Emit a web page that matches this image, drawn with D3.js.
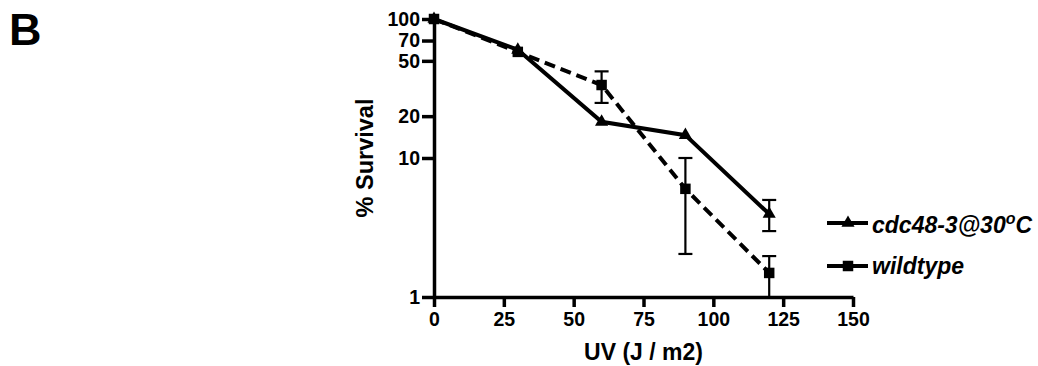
<!DOCTYPE html>
<html>
<head>
<meta charset="utf-8">
<script src="https://cdn.jsdelivr.net/npm/d3@7"></script>
<style>
  body { margin: 0; background: #fff; }
  text { font-family: "Liberation Sans", Arial, sans-serif; font-weight: bold; }
</style>
</head>
<body>
<svg id="chart"></svg>
<script>
const width = 1038, height = 366;
const margin = {top: 19, bottom: 69, left: 434, right: 185};

// data
const doses = [0, 30, 60, 90, 120];
const cdc48 = [100, 60, 18.2, 14.6, 3.95];
const cdc48Lo = [null, null, null, null, 2.98];
const cdc48Hi = [null, null, null, null, 4.99];
const wildtype = [100, 58, 33.5, 6.0, 1.49];
const wildLo = [null, null, 24.9, 2.04, 1.0];
const wildHi = [null, null, 42, 10, 1.97];
const xTicks = [0, 25, 50, 75, 100, 125, 150];
const yTicks = [1, 10, 20, 50, 70, 100];

const svg = d3.select("#chart")
    .attr("width", width)
    .attr("height", height)
    .style("background", "#ffffff");

const xScale = d3.scaleLinear()
    .domain([0, 150])
    .range([margin.left, width - margin.right]);

const yScale = d3.scaleLog()
    .domain([1, 100])
    .range([height - margin.bottom, margin.top]);

// panel letter
svg.append("text")
    .attr("x", 9)
    .attr("y", 45)
    .style("font-size", "45px")
    .text("B");

// axes
const xAxis = svg.append("g")
    .attr("transform", `translate(0,${height - margin.bottom})`)
    .call(d3.axisBottom(xScale).tickValues(xTicks).tickSize(10).tickPadding(5).tickSizeOuter(0));

const yAxis = svg.append("g")
    .attr("transform", `translate(${margin.left},0)`)
    .call(d3.axisLeft(yScale).tickValues(yTicks).tickFormat(d3.format("d")).tickSize(12).tickPadding(2).tickSizeOuter(0));

[xAxis, yAxis].forEach(ax => {
  ax.select(".domain").attr("stroke", "#000").attr("stroke-width", 3.5);
  ax.selectAll(".tick line").attr("stroke", "#000").attr("stroke-width", 3.5);
  ax.selectAll(".tick text")
    .attr("fill", "#000")
    .style("font-size", "19.5px")
    .style("font-family", "'Liberation Sans', Arial, sans-serif")
    .style("font-weight", "bold");
});

// axis titles
svg.append("text")
    .attr("x", xScale(75))
    .attr("y", 360)
    .attr("text-anchor", "middle")
    .style("font-size", "23px")
    .text("UV (J / m2)");

svg.append("text")
    .attr("transform", `translate(373,158) rotate(-90)`)
    .attr("text-anchor", "middle")
    .style("font-size", "23.5px")
    .text("% Survival");

const line = d3.line()
    .x(d => xScale(d.x))
    .y(d => yScale(d.y));

const cdcData = doses.map((x, i) => ({x: x, y: cdc48[i], lo: cdc48Lo[i], hi: cdc48Hi[i]}));
const wildData = doses.map((x, i) => ({x: x, y: wildtype[i], lo: wildLo[i], hi: wildHi[i]}));

// error bars
function errorBars(data) {
  const g = svg.append("g").attr("stroke", "#000").attr("stroke-width", 2.2);
  data.filter(d => d.lo != null).forEach(d => {
    const cx = xScale(d.x);
    g.append("line").attr("x1", cx).attr("x2", cx).attr("y1", yScale(d.lo)).attr("y2", yScale(d.hi));
    g.append("line").attr("x1", cx - 7).attr("x2", cx + 7).attr("y1", yScale(d.hi)).attr("y2", yScale(d.hi));
    if (d.lo > 1) {
      g.append("line").attr("x1", cx - 7).attr("x2", cx + 7).attr("y1", yScale(d.lo)).attr("y2", yScale(d.lo));
    }
  });
}
errorBars(wildData);
errorBars(cdcData);

// lines
svg.append("path")
    .datum(wildData)
    .attr("fill", "none")
    .attr("stroke", "#000")
    .attr("stroke-width", 4)
    .attr("stroke-dasharray", "11,6")
    .attr("d", line);

svg.append("path")
    .datum(cdcData)
    .attr("fill", "none")
    .attr("stroke", "#000")
    .attr("stroke-width", 4)
    .attr("d", line);

// markers
const tri = d3.symbol().type(d3.symbolTriangle).size(75);
const sq = d3.symbol().type(d3.symbolSquare).size(110);

svg.selectAll(".sq")
    .data(wildData)
    .join("path")
    .attr("class", "sq")
    .attr("transform", d => `translate(${xScale(d.x)},${yScale(d.y)})`)
    .attr("d", sq)
    .attr("fill", "#000");

svg.selectAll(".tri")
    .data(cdcData)
    .join("path")
    .attr("class", "tri")
    .attr("transform", d => `translate(${xScale(d.x)},${yScale(d.y)})`)
    .attr("d", tri)
    .attr("fill", "#000");

// legend
const legend = svg.append("g").attr("transform", "translate(827,223)");

legend.append("line").attr("x1", 0).attr("x2", 41).attr("y1", 0).attr("y2", 0)
    .attr("stroke", "#000").attr("stroke-width", 4);
legend.append("path").attr("transform", "translate(21,0)").attr("d", tri).attr("fill", "#000");
const t1 = legend.append("text")
    .attr("x", 45)
    .attr("y", 10)
    .style("font-size", "23px")
    .style("font-style", "italic");
t1.append("tspan").text("cdc48-3@30");
t1.append("tspan").attr("dy", -9).style("font-size", "16px").text("o");
t1.append("tspan").attr("dy", 9).text("C");

legend.append("line").attr("x1", 0).attr("x2", 41).attr("y1", 43).attr("y2", 43)
    .attr("stroke", "#000").attr("stroke-width", 4);
legend.append("path").attr("transform", "translate(21,43)").attr("d", sq).attr("fill", "#000");
legend.append("text")
    .attr("x", 45)
    .attr("y", 51)
    .style("font-size", "23px")
    .style("font-style", "italic")
    .text("wildtype");
</script>
</body>
</html>
